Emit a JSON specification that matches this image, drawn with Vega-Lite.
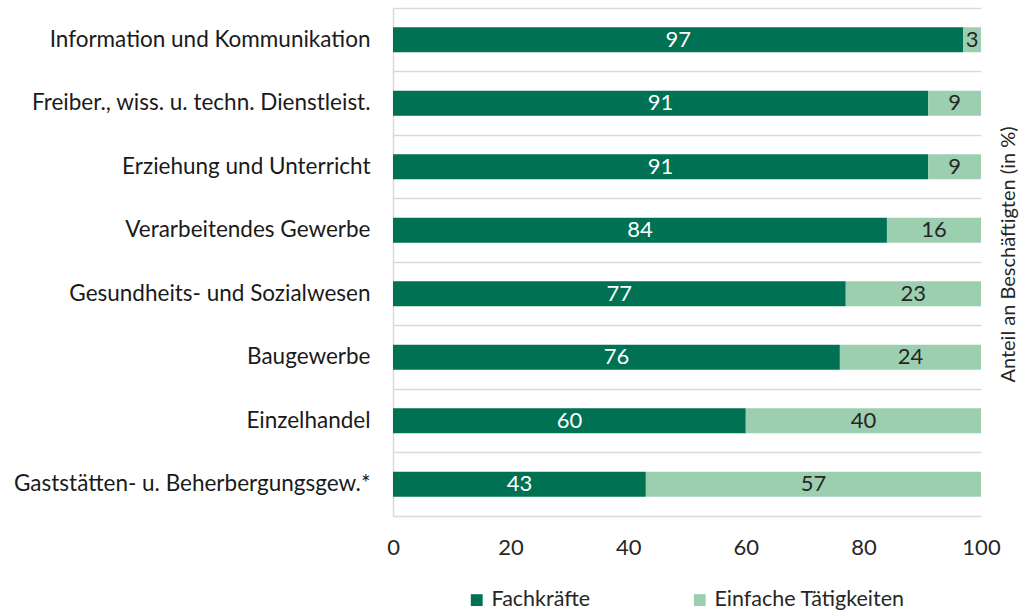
{
  "$schema": "https://vega.github.io/schema/vega-lite/v6.json",
  "width": 588,
  "height": 508,
  "autosize": "none",
  "padding": {"left": 393, "top": 8, "right": 49, "bottom": 96},
  "background": "white",
  "config": {
    "view": {"stroke": null},
    "font": "Lato"
  },
  "data": {
    "values": [
      {"cat": "Information und Kommunikation", "type": "Fachkräfte", "ord": 1, "value": 97},
      {"cat": "Information und Kommunikation", "type": "Einfache Tätigkeiten", "ord": 2, "value": 3},
      {"cat": "Freiber., wiss. u. techn. Dienstleist.", "type": "Fachkräfte", "ord": 1, "value": 91},
      {"cat": "Freiber., wiss. u. techn. Dienstleist.", "type": "Einfache Tätigkeiten", "ord": 2, "value": 9},
      {"cat": "Erziehung und Unterricht", "type": "Fachkräfte", "ord": 1, "value": 91},
      {"cat": "Erziehung und Unterricht", "type": "Einfache Tätigkeiten", "ord": 2, "value": 9},
      {"cat": "Verarbeitendes Gewerbe", "type": "Fachkräfte", "ord": 1, "value": 84},
      {"cat": "Verarbeitendes Gewerbe", "type": "Einfache Tätigkeiten", "ord": 2, "value": 16},
      {"cat": "Gesundheits- und Sozialwesen", "type": "Fachkräfte", "ord": 1, "value": 77},
      {"cat": "Gesundheits- und Sozialwesen", "type": "Einfache Tätigkeiten", "ord": 2, "value": 23},
      {"cat": "Baugewerbe", "type": "Fachkräfte", "ord": 1, "value": 76},
      {"cat": "Baugewerbe", "type": "Einfache Tätigkeiten", "ord": 2, "value": 24},
      {"cat": "Einzelhandel", "type": "Fachkräfte", "ord": 1, "value": 60},
      {"cat": "Einzelhandel", "type": "Einfache Tätigkeiten", "ord": 2, "value": 40},
      {"cat": "Gaststätten- u. Beherbergungsgew.*", "type": "Fachkräfte", "ord": 1, "value": 43},
      {"cat": "Gaststätten- u. Beherbergungsgew.*", "type": "Einfache Tätigkeiten", "ord": 2, "value": 57}
    ]
  },
  "encoding": {
    "x": {
      "field": "value",
      "type": "quantitative",
      "stack": "zero",
      "scale": {"domain": [0, 100], "nice": false},
      "axis": {
        "title": null,
        "values": [0, 20, 40, 60, 80, 100],
        "grid": false,
        "ticks": false,
        "domain": true,
        "domainColor": "#d9d9d9",
        "domainWidth": 1.5,
        "labelFontSize": 22,
        "labelColor": "#262626",
        "labelPadding": 21,
        "labelFlush": false
      }
    },
    "order": {"field": "ord", "type": "quantitative"}
  },
  "layer": [
    {
      "mark": {"type": "bar", "size": 25},
      "encoding": {
        "y": {
          "field": "cat",
          "type": "nominal",
          "sort": null,
          "scale": {"paddingInner": 0, "paddingOuter": 0},
          "axis": {
            "title": null,
            "grid": true,
            "gridColor": "#d9d9d9",
            "gridWidth": 1.5,
            "bandPosition": 0,
            "ticks": false,
            "domain": true,
            "domainColor": "#d9d9d9",
            "domainWidth": 1.5,
            "labelFontSize": 22.5,
            "labelColor": "#1a1a1a",
            "labelPadding": 23,
            "labelLimit": 400
          }
        },
        "color": {
          "field": "type",
          "type": "nominal",
          "scale": {"domain": ["Fachkräfte", "Einfache Tätigkeiten"], "range": ["#007152", "#9ccfb0"]},
          "legend": {
            "title": null,
            "orient": "none",
            "legendX": 73,
            "legendY": 581,
            "direction": "horizontal",
            "symbolType": "square",
            "symbolSize": 140,
            "symbolStrokeWidth": 0,
            "labelFontSize": 21.5,
            "labelColor": "#262626",
            "columnPadding": 98,
            "labelLimit": 300
          }
        }
      }
    },
    {
      "mark": {"type": "text", "fontSize": 22},
      "encoding": {
        "y": {
          "field": "cat",
          "type": "nominal",
          "sort": null,
          "axis": {
            "orient": "right",
            "title": "Anteil an Beschäftigten (in %)",
            "titleFontSize": 20,
            "titleFontWeight": "normal",
            "titleColor": "#262626",
            "titleAngle": 270,
            "titleY": 246,
            "titlePadding": 37,
            "labels": false,
            "ticks": false,
            "domain": false,
            "grid": false
          }
        },
        "x": {"field": "value", "type": "quantitative", "stack": "zero", "bandPosition": 0.5},
        "text": {"field": "value", "type": "quantitative"},
        "color": {
          "condition": {"test": "datum.ord === 1", "value": "white"},
          "value": "#262626"
        }
      }
    }
  ],
  "resolve": {"axis": {"y": "independent"}}
}
